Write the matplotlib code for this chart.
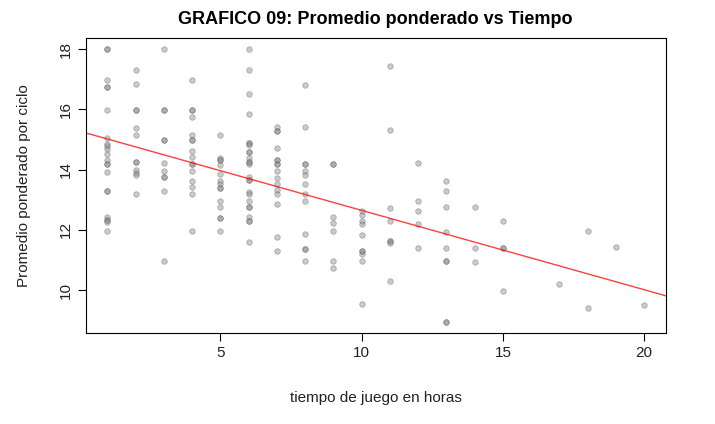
import numpy as np
import matplotlib.pyplot as plt

plt.rcParams['font.family'] = ['Liberation Sans', 'DejaVu Sans']

# horas de juego -> promedios (duplicados = puntos oscuros)
horas = {
    1: [18, 18, 16.96, 16.73, 16.73, 15.97, 15.05, 14.86, 14.78, 14.67, 14.53, 14.33, 14.17, 14.17,
        13.91, 13.28, 13.28, 12.41, 12.32, 12.32, 12.27, 11.96],
    2: [17.29, 16.83, 15.97, 15.97, 15.37, 15.16, 14.26, 14.26, 13.97, 13.9, 13.81, 13.18],
    3: [18, 15.97, 15.97, 14.97, 14.97, 14.21, 13.95, 13.74, 13.74, 13.28, 10.95],
    4: [16.96, 15.97, 15.97, 15.74, 15.16, 14.97, 14.97, 14.61, 14.41, 14.19, 14.19, 13.94, 13.61,
        13.41, 13.18, 11.96],
    5: [15.16, 14.39, 14.3, 14.3, 14.16, 13.84, 13.61, 13.51, 13.38, 13.38, 12.95, 12.74, 12.4, 12.4, 11.96],
    6: [18, 17.29, 16.5, 15.84, 14.89, 14.89, 14.8, 14.58, 14.58, 14.39, 14.26, 14.26, 14.17, 13.75,
        13.64, 13.64, 13.25, 13.18, 12.95, 12.74, 12.74, 12.41, 12.3, 12.3, 11.59],
    7: [15.42, 15.27, 15.27, 14.73, 14.3, 14.3, 14.19, 14.19, 13.94, 13.73, 13.51, 13.31, 13.18,
        12.85, 11.75, 11.3],
    8: [16.8, 15.4, 14.17, 14.17, 13.94, 13.83, 13.51, 13.18, 12.95, 11.86, 11.35, 11.35, 10.95],
    9: [14.19, 14.19, 12.41, 12.22, 11.96, 10.95, 10.72],
    10: [12.63, 12.5, 12.3, 12.19, 11.83, 11.29, 11.29, 11.2, 10.95, 9.53],
    11: [17.42, 15.3, 12.71, 12.3, 11.64, 11.64, 11.56, 10.29],
    12: [14.21, 12.95, 12.62, 12.19, 11.4],
    13: [13.61, 13.28, 12.75, 11.92, 11.4, 10.95, 10.95, 8.94, 8.94],
    14: [12.75, 11.4, 10.92],
    15: [12.29, 11.39, 11.39, 9.96],
    17: [10.19],
    18: [11.96, 9.4],
    19: [11.43],
    20: [9.5],
}

x = np.array([h for h, vals in horas.items() for _ in vals], dtype=float)
y = np.array([v for vals in horas.values() for v in vals])

fig = plt.figure(figsize=(7.15, 4.24), dpi=100)
ax = fig.add_axes([0.12, 0.215, 0.811, 0.695])

ax.scatter(x, y, s=16, c='#8a8a8a', alpha=0.45, edgecolors='#555555', linewidths=0.5)
b, a = np.polyfit(x, y, 1)
ax.axline((0, a), slope=b, color='red', lw=1, alpha=0.75)

ax.set_xlim(0.24, 20.76)
ax.set_ylim(8.58, 18.36)
ax.set_xticks([5, 10, 15, 20])
ax.set_yticks([10, 12, 14, 16, 18])
ax.tick_params(labelsize=11, length=6, labelcolor='#222222')
for lab in ax.get_yticklabels():
    lab.set_rotation(90)
    lab.set_va('center')
ax.set_xlabel('tiempo de juego en horas', fontsize=11, labelpad=22, color='#222222')
ax.set_ylabel('Promedio ponderado por ciclo', fontsize=11, labelpad=20, color='#222222')
ax.set_title('GRAFICO 09: Promedio ponderado vs Tiempo', fontsize=13, fontweight='bold', pad=10)

fig.savefig('out.png', dpi=100)
